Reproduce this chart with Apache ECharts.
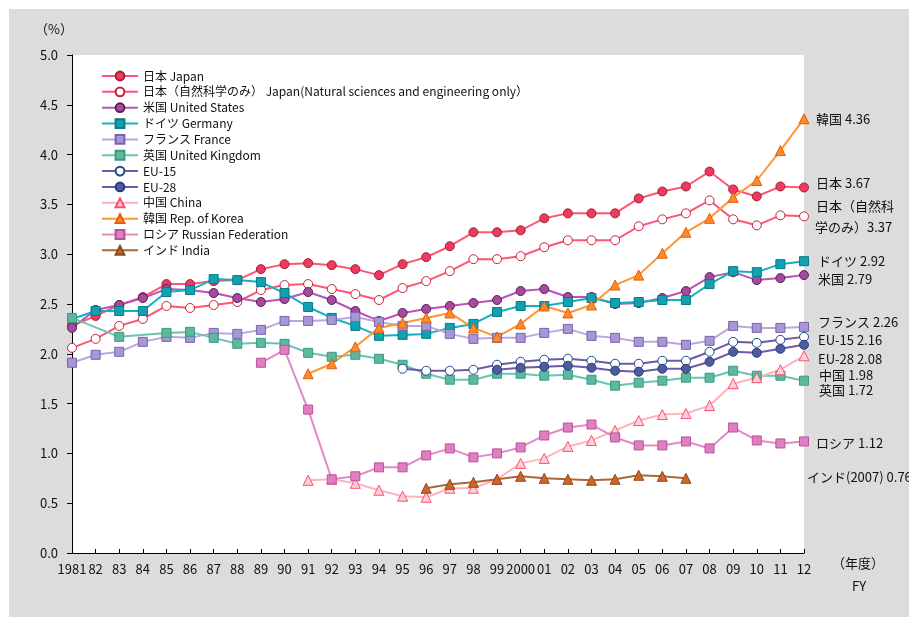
<!DOCTYPE html>
<html>
<head>
<meta charset="utf-8">
<script src="https://cdn.jsdelivr.net/npm/echarts@6/dist/echarts.min.js"></script>
<style>
html,body{margin:0;padding:0;background:#fff;}
#bg{position:absolute;left:9px;top:9px;width:900px;height:608px;background:#dcdcdc;}
#chart{position:absolute;left:0;top:0;width:909px;height:618px;}
</style>
</head>
<body>
<div id="bg"></div>
<div id="chart"></div>
<script>
const years = ['1981','82','83','84','85','86','87','88','89','90','91','92','93','94','95','96','97','98','99','2000','01','02','03','04','05','06','07','08','09','10','11','12'];
const yTicks = [0, 0.5, 1.0, 1.5, 2.0, 2.5, 3.0, 3.5, 4.0, 4.5, 5.0];

const japan = [2.28,2.38,2.49,2.57,2.70,2.70,2.73,2.74,2.85,2.90,2.91,2.89,2.85,2.79,2.90,2.97,3.08,3.22,3.22,3.24,3.36,3.41,3.41,3.41,3.56,3.63,3.68,3.83,3.65,3.58,3.68,3.67];
const japanNSE = [2.06,2.15,2.28,2.35,2.48,2.46,2.49,2.52,2.64,2.69,2.70,2.65,2.60,2.54,2.66,2.73,2.83,2.95,2.95,2.98,3.07,3.14,3.14,3.14,3.28,3.35,3.41,3.54,3.35,3.29,3.39,3.38];
const us = [2.26,2.44,2.49,2.56,2.65,2.64,2.61,2.56,2.52,2.55,2.62,2.54,2.43,2.33,2.41,2.45,2.48,2.51,2.54,2.63,2.65,2.57,2.57,2.50,2.51,2.56,2.63,2.77,2.82,2.74,2.76,2.79];
const germany = [2.35,2.43,2.43,2.43,2.62,2.64,2.75,2.74,2.72,2.61,2.47,2.36,2.28,2.18,2.19,2.20,2.26,2.30,2.42,2.48,2.48,2.52,2.56,2.51,2.52,2.54,2.54,2.70,2.83,2.82,2.90,2.93];
const france = [1.91,1.99,2.02,2.12,2.17,2.16,2.21,2.20,2.24,2.33,2.33,2.34,2.37,2.32,2.28,2.28,2.20,2.15,2.16,2.16,2.21,2.25,2.18,2.16,2.12,2.12,2.09,2.13,2.28,2.26,2.26,2.27];
const uk = [2.36,null,2.17,null,2.21,2.22,2.16,2.10,2.11,2.10,2.01,1.97,1.99,1.95,1.89,1.80,1.74,1.74,1.80,1.80,1.78,1.79,1.74,1.68,1.71,1.73,1.76,1.76,1.83,1.78,1.78,1.73];
const eu15 = [null,null,null,null,null,null,null,null,null,null,null,null,null,null,1.85,1.83,1.83,1.84,1.89,1.92,1.94,1.95,1.93,1.90,1.90,1.93,1.93,2.02,2.12,2.11,2.14,2.17];
const eu28 = [null,null,null,null,null,null,null,null,null,null,null,null,null,null,null,null,null,null,1.84,1.86,1.87,1.88,1.86,1.83,1.82,1.85,1.85,1.92,2.02,2.01,2.05,2.09];
const china = [null,null,null,null,null,null,null,null,null,null,0.73,0.74,0.70,0.63,0.57,0.56,0.65,0.65,0.74,0.90,0.95,1.07,1.13,1.23,1.33,1.39,1.40,1.48,1.70,1.76,1.84,1.98];
const korea = [null,null,null,null,null,null,null,null,null,null,1.80,1.90,2.07,2.26,2.31,2.36,2.41,2.26,2.17,2.30,2.48,2.41,2.49,2.69,2.79,3.01,3.22,3.36,3.57,3.74,4.04,4.36];
const russia = [null,null,null,null,null,null,null,null,1.91,2.04,1.44,0.74,0.77,0.86,0.86,0.98,1.05,0.96,1.00,1.06,1.18,1.26,1.29,1.16,1.08,1.08,1.12,1.05,1.26,1.13,1.10,1.12];
const india = [null,null,null,null,null,null,null,null,null,null,null,null,null,null,null,0.65,0.69,0.71,0.74,0.77,0.75,0.74,0.73,0.74,0.78,0.77,0.75,null,null,null,null,null];

const names = ['日本 Japan','日本（自然科学のみ） Japan(Natural sciences and engineering only）','米国 United States','ドイツ Germany','フランス France','英国 United Kingdom','EU-15','EU-28','中国 China','韓国 Rep. of Korea','ロシア Russian Federation','インド India'];
const endLabels = [
  ['韓国 4.36', 816, 122],
  ['日本 3.67', 816, 186],
  ['日本（自然科', 816, 209],
  ['学のみ）3.37', 815, 230],
  ['ドイツ 2.92', 818, 264],
  ['米国 2.79', 818, 282],
  ['フランス 2.26', 818, 325],
  ['EU-15 2.16', 818, 343],
  ['EU-28 2.08', 818, 362],
  ['中国 1.98', 819, 378],
  ['英国 1.72', 819, 393],
  ['ロシア 1.12', 816, 446],
  ['インド(2007) 0.76', 807, 480]
];

const FONT = '"Noto Sans CJK JP", "Noto Sans", sans-serif';

function mk(name, data, symbol, size, line, fill, border, connect) {
  return {
    name: name, type: 'line', data: data, symbol: symbol, symbolSize: size,
    showSymbol: true, connectNulls: !!connect,
    lineStyle: {color: line, width: 2},
    itemStyle: {color: fill, borderColor: border, borderWidth: 1},
    emphasis: {disabled: true},
    animation: false
  };
}

const series = [
  mk(names[0], japan, 'circle', 9, '#ff5573', '#ee3a5e', '#a0203a'),
  mk(names[1], japanNSE, 'circle', 9, '#ff5573', '#ffffff', '#c8203f'),
  mk(names[2], us, 'circle', 9, '#bb52ba', '#a54a9f', '#5a1f58'),
  mk(names[3], germany, 'rect', 9, '#14b0bf', '#10a2b0', '#0a7a86'),
  mk(names[4], france, 'rect', 9, '#b9a8de', '#a996d6', '#7763ad'),
  mk(names[5], uk, 'rect', 9, '#6cc3b0', '#5cb89f', '#3b9a80', true),
  mk(names[6], eu15, 'circle', 9, '#6b5aa8', '#ffffff', '#1d4b8c'),
  mk(names[7], eu28, 'circle', 9, '#6b5aa8', '#4f5b9c', '#263d7e'),
  mk(names[8], china, 'triangle', 10, '#ffb3be', '#ffd0d8', '#ff4d6d'),
  mk(names[9], korea, 'triangle', 10, '#ff9430', '#ff8a2a', '#e0600f'),
  mk(names[10], russia, 'rect', 9, '#e389c6', '#e07fc0', '#b8509a'),
  mk(names[11], india, 'triangle', 10, '#a8683a', '#d2642a', '#8a4a20')
];

const chart = echarts.init(document.getElementById('chart'), null, {renderer: 'canvas'});
chart.setOption({
  backgroundColor: 'transparent',
  animation: false,
  textStyle: {fontFamily: FONT},
  grid: {left: 72, top: 55, right: 105, bottom: 65, show: true, backgroundColor: '#ffffff', borderWidth: 0},
  legend: {
    data: names, orient: 'vertical', left: 96, top: 65,
    itemWidth: 36, itemHeight: 11, itemGap: 3.85,
    textStyle: {fontSize: 12, color: '#111', fontFamily: FONT, lineHeight: 11},
    selectedMode: false
  },
  xAxis: {
    type: 'category', data: years, boundaryGap: false,
    axisLine: {lineStyle: {color: '#000', width: 1}},
    axisTick: {inside: true, length: 4, alignWithLabel: true, lineStyle: {color: '#000'}},
    axisLabel: {fontSize: 13, color: '#111', margin: 10, interval: 0, fontFamily: FONT},
    splitLine: {show: false}
  },
  yAxis: {
    type: 'value', min: yTicks[0], max: yTicks[yTicks.length - 1], interval: 0.5,
    axisLine: {show: true, lineStyle: {color: '#000', width: 1}},
    axisTick: {show: true, length: 5, lineStyle: {color: '#000'}},
    axisLabel: {fontSize: 13, color: '#111', margin: 14, fontFamily: FONT, formatter: v => v.toFixed(1)},
    splitLine: {show: false}
  },
  graphic: {elements: [
    {type: 'text', left: 35, top: 23, style: {text: '（%）', fontSize: 13, fill: '#111', fontFamily: FONT}},
    {type: 'text', left: 832, top: 557, style: {text: '（年度）', fontSize: 13, fill: '#111', fontFamily: FONT}},
    {type: 'text', left: 852, top: 580, style: {text: 'FY', fontSize: 13, fill: '#111', fontFamily: FONT}}
  ].concat(endLabels.map(l => ({
    type: 'text', left: l[1], top: l[2] - 9,
    style: {text: l[0], fontSize: 13, fill: '#111', fontFamily: FONT}
  })))},
  series: series
});
</script>
</body>
</html>
